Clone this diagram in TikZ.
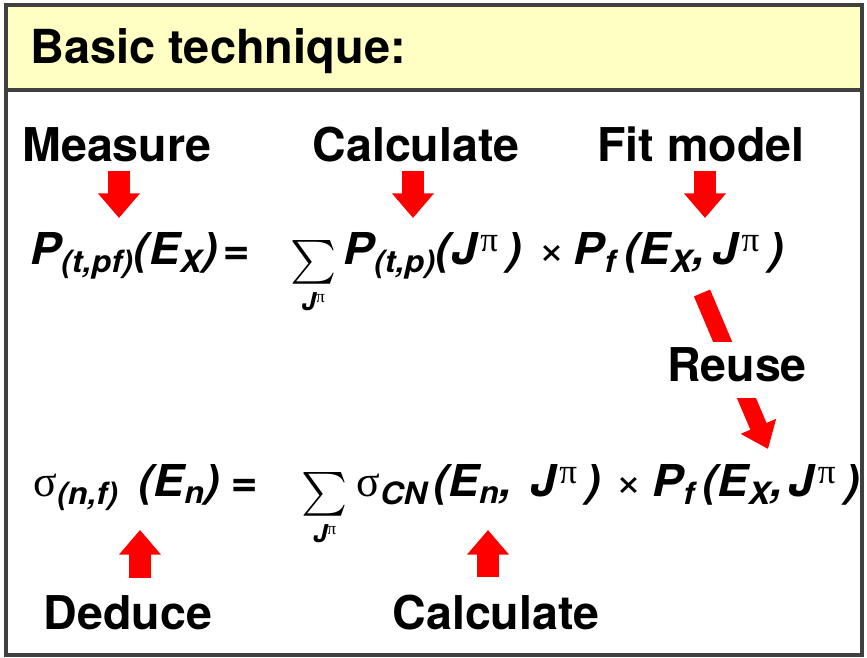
\documentclass[tikz,border=0pt]{standalone}
\usepackage{amsmath}
\usepackage{fontspec}
\setmainfont{TeX Gyre Heros}
\newfontfamily\eqfont{TeX Gyre Heros}[FakeStretch=1.05]
\newfontfamily\greekfont{Liberation Serif}
\usetikzlibrary{positioning,arrows.meta,calc}
\definecolor{headeryellow}{RGB}{255,255,196}
\definecolor{framegray}{RGB}{64,64,64}
\tikzstyle{titletext}=[font=\fontsize{26.7}{30}\selectfont\bfseries, inner sep=0pt, anchor=base west]
\tikzstyle{wordlabel}=[font=\fontsize{26.5}{30}\selectfont\bfseries, inner sep=0pt, anchor=base]
\tikzstyle{formula}=[font=\eqfont\fontsize{25}{29}\selectfont\bfseries\itshape, inner sep=0pt, anchor=base west]
\tikzstyle{redarrow}=[draw=red, line width=12pt, -{Triangle[width=23pt,length=14pt]}]
\tikzstyle{reusearrow}=[draw=red, line width=10pt, -{Triangle[width=21pt,length=14pt]}]

\newcommand{\lo}[1]{\textsubscript{#1}}
\newcommand{\hi}[1]{\hspace{2pt}\raisebox{0.3em}{\fontsize{20}{20}\selectfont #1}\hspace{5pt}}
\newcommand{\pis}{{\greekfont\mdseries\upshape π}}
\newcommand{\sig}{{\greekfont\mdseries\upshape σ}}
\newcommand{\tms}{{\mdseries\upshape ×}}
\newcommand{\sumJ}{\raisebox{-5pt}{$\mathop{\textstyle\sum}\limits_{\mbox{\fontsize{14}{14}\selectfont J\raisebox{0.35em}{\fontsize{10}{10}\selectfont\pis}}}$}}

\begin{document}
\begin{tikzpicture}[x=0.02cm, y=-0.02cm]
	\useasboundingbox (0,0) rectangle (867,658);

	% frame and header
	\fill[headeryellow] (6,5) rectangle (862,90);
	\draw[framegray, line width=2pt] (6,5) rectangle (862,655);
	\draw[framegray, line width=2.5pt] (6,90) -- (862,90);
	\node (Title) [titletext] at (30,64) {Basic technique:};

	% equations
	\node (RateEq) [formula] at (30,265)
        {P\lo{(t,pf)}(E\lo{X})\hspace{3pt}=\hspace{23pt}\sumJ\hspace{4pt}P\lo{(t,p)}(J\hi{\pis})\hspace{9pt}\tms\hspace{5pt}P\lo{f}\hspace{4.5pt}(E\lo{X},\hspace{4pt}J\hi{\pis})};
	\node (CrossEq) [formula] at (33,497)
        {\sig\lo{(n,f)}\hspace{11pt}(E\lo{n})\hspace{6pt}=\hspace{25pt}\sumJ\hspace{5pt}\sig\lo{CN}\hspace{3pt}(E\lo{n},\hspace{10pt}J\hi{\pis})\hspace{8pt}\tms\hspace{6pt}P\lo{f}\hspace{4pt}(E\lo{X},\hspace{3pt}J\hi{\pis})};

	% labels
	\node (Measure) [wordlabel] at (117,162) {Measure};
	\node (CalcTop) [wordlabel] at (416,162) {Calculate};
	\node (FitModel) [wordlabel] at (701,162) {Fit model};
	\node (Deduce) [wordlabel] at (128,630) {Deduce};
	\node (CalcBottom) [wordlabel] at (496,630) {Calculate};

	\coordinate (MeasureTip) at (119,218);
	\coordinate (CalcTopTip) at (413,218);
	\coordinate (FitModelTip) at (705,218);
	\coordinate (DeduceTip) at (140,530);
	\coordinate (CalcBottomTip) at (488,530);
	\coordinate (ReuseTail) at (702,293);
	\coordinate (ReuseTip) at (768,449);

\draw[redarrow] (Measure.south -| MeasureTip) ++(0,8) -- (MeasureTip);
\draw[redarrow] (CalcTop.south -| CalcTopTip) ++(0,8) -- (CalcTopTip);
\draw[redarrow] (FitModel.south -| FitModelTip) ++(0,8) -- (FitModelTip);
\draw[redarrow] (Deduce.north -| DeduceTip) ++(0,-18) -- (DeduceTip);
\draw[redarrow] (CalcBottom.north -| CalcBottomTip) ++(0,-18) -- (CalcBottomTip);

\draw[reusearrow] (ReuseTail) -- (ReuseTip);
\node (Reuse) [wordlabel, fill=white, inner ysep=3.4pt, text depth=5.7pt] at (737,382) {Reuse};
\end{tikzpicture}
\end{document}
